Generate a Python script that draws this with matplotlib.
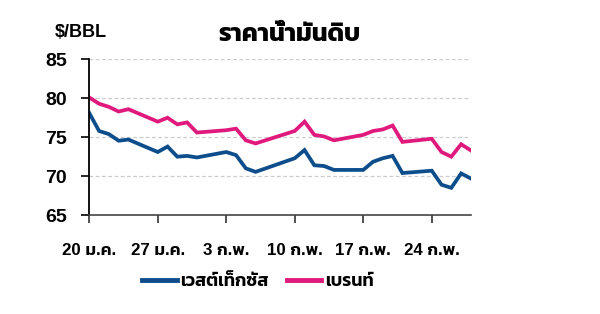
import matplotlib
matplotlib.use("Agg")
import matplotlib.pyplot as plt
import pandas as pd
from matplotlib.lines import Line2D

# ---- data ----
dates = ["2025-01-20", "2025-01-21", "2025-01-22", "2025-01-23", "2025-01-24",
         "2025-01-27", "2025-01-28", "2025-01-29", "2025-01-30", "2025-01-31",
         "2025-02-03", "2025-02-04", "2025-02-05", "2025-02-06",
         "2025-02-10", "2025-02-11", "2025-02-12", "2025-02-13", "2025-02-14",
         "2025-02-17", "2025-02-18", "2025-02-19", "2025-02-20", "2025-02-21",
         "2025-02-24", "2025-02-25", "2025-02-26", "2025-02-27", "2025-02-28"]
wti = [78.1, 75.8, 75.4, 74.55, 74.7,
       73.1, 73.8, 72.5, 72.6, 72.4,
       73.1, 72.7, 71.0, 70.55,
       72.3, 73.35, 71.4, 71.3, 70.8,
       70.8, 71.85, 72.3, 72.6, 70.4,
       70.7, 68.9, 68.5, 70.35, 69.7]
brent = [80.1, 79.3, 78.9, 78.3, 78.6,
         77.0, 77.5, 76.65, 76.9, 75.6,
         75.9, 76.1, 74.6, 74.2,
         75.8, 77.0, 75.3, 75.1, 74.6,
         75.3, 75.8, 76.0, 76.5, 74.4,
         74.8, 73.1, 72.5, 74.1, 73.3]
tick_dates = ["2025-01-20", "2025-01-27", "2025-02-03", "2025-02-10", "2025-02-17", "2025-02-24"]
tick_labels = ["20 ม.ค.", "27 ม.ค.", "3 ก.พ.", "10 ก.พ.", "17 ก.พ.", "24 ก.พ."]
yticks = [65, 70, 75, 80, 85]
series_names = ["เวสต์เท็กซัส", "เบรนท์"]
title = "ราคาน้ำมันดิบ"
unit = "$/BBL"

BLUE = "#0d4d8c"
PINK = "#e0197d"
FAM = ["Liberation Sans", "Kanit"]
plt.rcParams['font.family'] = FAM

x = pd.to_datetime(dates)
fig = plt.figure(figsize=(6, 3.14), dpi=100)
ax = fig.add_axes([0.1488, 0.315, 0.636, 0.496])

ax.plot(x, wti, color=BLUE, lw=2.7, solid_joinstyle='miter')
ax.plot(x, brent, color=PINK, lw=2.7, solid_joinstyle='miter')

ax.set_xlim(pd.Timestamp("2025-01-20"), pd.Timestamp("2025-02-28"))
ax.set_ylim(65, 85)
ax.set_yticks(yticks)
ax.set_yticklabels([str(v) for v in yticks], fontsize=14, fontweight='bold')
ax.set_xticks(pd.to_datetime(tick_dates))
ax.set_xticklabels(tick_labels, fontsize=12.2, fontweight='semibold')
ax.tick_params(axis='y', length=6, width=1.2, color='black', pad=10)
ax.tick_params(axis='x', length=6, width=1.2, color='#333333', pad=14)

for v in [70, 75, 80, 85]:
    ax.axhline(v, color='#cccccc', lw=0.9, ls=(0, (3, 2)), zorder=0)

for s in ['top', 'right']:
    ax.spines[s].set_visible(False)
ax.spines['left'].set_color('black')
ax.spines['left'].set_linewidth(1.3)
ax.spines['bottom'].set_color('#444444')
ax.spines['bottom'].set_linewidth(1.2)

fig.text(0.483, 0.893, title, ha='center', va='center', fontsize=18, fontweight='bold')
fig.text(0.092, 0.897, unit, ha='left', va='center', fontsize=13, fontweight='bold')

handles = [Line2D([], [], color=BLUE, lw=3.5), Line2D([], [], color=PINK, lw=3.5)]
fig.legend(handles, series_names, loc='center', bbox_to_anchor=(0.43, 0.103), ncol=2,
           frameon=False, prop={'family': FAM, 'size': 13, 'weight': 'semibold'},
           handlelength=1.9, handletextpad=0.2, columnspacing=1.0)

fig.savefig("out.png", dpi=100)
